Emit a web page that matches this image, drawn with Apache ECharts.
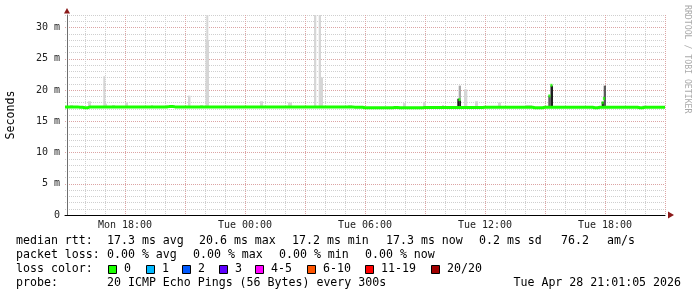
<!DOCTYPE html>
<html><head><meta charset="utf-8">
<script src="https://cdn.jsdelivr.net/npm/echarts@6/dist/echarts.min.js"></script>
<style>html,body{margin:0;padding:0;background:#fff}#c{width:697px;height:297px}</style>
</head><body><div id="c"></div>
<script>
// ---- data (x in hours since Mon 00:00, y in milliseconds) ----
const xTickHours  = [18, 24, 30, 36, 42];
const xTickLabels = ['Mon 18:00', 'Tue 00:00', 'Tue 06:00', 'Tue 12:00', 'Tue 18:00'];
const yTickValues = [0, 5, 10, 15, 20, 25, 30];
const yTickLabels = ['0', '5 m', '10 m', '15 m', '20 m', '25 m', '30 m'];

// median RTT, one value every 15 minutes from Mon 15:00 to Tue 21:00
const medianStartHour = 15;
const medianStepHours = 0.25;
const medianValues = [
  17.3, 17.3, 17.3, 17.25, 17.15, 17.3, 17.3, 17.3, 17.3, 17.3, 17.3, 17.3,
  17.3, 17.3, 17.3, 17.3, 17.3, 17.3, 17.3, 17.3, 17.3, 17.35, 17.3, 17.3,
  17.3, 17.3, 17.3, 17.3, 17.3, 17.3, 17.3, 17.3, 17.3, 17.3, 17.3, 17.3,
  17.3, 17.3, 17.3, 17.3, 17.3, 17.3, 17.3, 17.3, 17.3, 17.3, 17.3, 17.3,
  17.3, 17.3, 17.3, 17.3, 17.3, 17.3, 17.3, 17.3, 17.3, 17.3, 17.25, 17.25,
  17.15, 17.15, 17.15, 17.15, 17.15, 17.15, 17.2, 17.15, 17.15, 17.15, 17.15, 17.15,
  17.2, 17.2, 17.2, 17.2, 17.2, 17.2, 17.2, 17.2, 17.2, 17.2, 17.2, 17.2,
  17.25, 17.25, 17.25, 17.25, 17.25, 17.25, 17.25, 17.25, 17.25, 17.25, 17.15, 17.15,
  17.25, 17.25, 17.25, 17.25, 17.25, 17.25, 17.25, 17.25, 17.25, 17.25, 17.15, 17.25,
  17.25, 17.25, 17.25, 17.25, 17.25, 17.25, 17.25, 17.15, 17.25, 17.25, 17.25, 17.25,
  17.25
];

// smoke (ping spread) blocks: start hour, end hour, low ms, high ms, density level (1 light .. 4 dark)
const smokeStart = [15.25, 16.15, 16.915, 17.0, 17.35, 18.0, 19.3, 20.0, 20.35, 21.15, 21.75, 22.025, 22.065, 24.75, 26.15,
                    27.45, 27.685, 27.8, 29.15, 31.9, 32.9, 33.85, 34.685, 34.95, 35.5, 36.65, 38.0, 43.85,
                    34.615, 34.71, 39.165, 39.275, 41.835, 41.935];
const smokeEnd   = [15.4, 16.3, 17.015, 17.1, 17.5, 18.15, 19.4, 20.15, 20.5, 21.275, 21.9, 22.2, 22.165, 24.9, 26.35,
                    27.565, 27.8, 27.9, 29.35, 32.05, 33.05, 33.95, 34.8, 35.115, 35.65, 36.8, 38.35, 44.1,
                    34.7, 34.8, 39.275, 39.4, 41.95, 42.05];
const smokeLow   = [17.3, 17.3, 17.3, 17.3, 17.3, 17.3, 17.3, 17.3, 17.3, 17.3, 17.3, 17.3, 28.0, 17.3, 17.3,
                    17.3, 17.3, 17.3, 17.3, 17.2, 17.2, 17.2, 17.3, 17.2, 17.2, 17.2, 17.2, 17.2,
                    17.3, 17.3, 17.3, 17.3, 17.3, 17.3];
const smokeHigh  = [17.6, 18.2, 22.2, 17.8, 17.6, 18.0, 17.6, 17.6, 17.6, 19.1, 17.6, 28.0, 32.0, 18.2, 18.0,
                    32.0, 32.0, 22.0, 17.6, 17.9, 18.1, 17.6, 20.7, 20.1, 18.2, 18.0, 17.6, 17.5,
                    18.6, 18.3, 19.1, 20.7, 18.1, 20.7];
const smokeLevel = [1, 1, 1, 1, 1, 1, 1, 1, 1, 1, 1, 1, 1, 1, 1,
                    1, 1, 1, 1, 1, 1, 1, 2, 1, 1, 1, 1, 1,
                    4, 4, 3, 4, 4, 3];

// median jumps inside the spikes
const jumpHours  = [34.72, 39.22, 39.32, 41.88, 41.95];
const jumpValues = [18.45, 19.05, 20.75, 17.95, 18.65];

// legend
const lossLabels = ['0', '1', '2', '3', '4-5', '6-10', '11-19', '20/20'];
const lossColors = ['#1aff00', '#00b8ff', '#0059ff', '#5e00ff', '#ff00ff', '#ff5500', '#ff0000', '#a10000'];
const shadeColors = ['#d6d6d6', '#a9a9a9', '#5a5a5a', '#1e1e1e'];

// ---- chart ----
const medianData = medianValues.map((v, i) => [medianStartHour + i * medianStepHours, v]);
const smokeData = smokeStart.map((s, i) => [s, smokeEnd[i], smokeLow[i], smokeHigh[i], smokeLevel[i]]);
const jumpData = jumpHours.map((h, i) => [h, jumpValues[i]]);

const MONO = 'DejaVu Sans Mono';
const LF = 11.6;
const gridLeft = 65, gridTop = 15, gridW = 600, gridH = 200;

function txt(x, y, s, opts) {
  return Object.assign({ type: 'text', x: x, y: y, silent: true,
    style: Object.assign({ text: s, font: LF + 'px "' + MONO + '"', fill: '#000', textVerticalAlign: 'middle' }, opts || {}) });
}

const graphics = [];
// axis arrows
graphics.push({ type: 'polygon', silent: true, shape: { points: [[64, 13.5], [70, 13.5], [67, 8]] }, style: { fill: '#8b1a1a' } });
graphics.push({ type: 'polygon', silent: true, shape: { points: [[668, 211.5], [668, 218.5], [674, 215]] }, style: { fill: '#8b1a1a' } });
// watermark
graphics.push({ type: 'text', x: 683, y: 5, rotation: -Math.PI / 2, silent: true,
  style: { text: 'RRDTOOL / TOBI OETIKER', font: '8.2px "' + MONO + '"', fill: '#aaaaaa', textVerticalAlign: 'bottom' } });
// legend rows
graphics.push(txt(16, 241, 'median rtt:'));
graphics.push(txt(107, 241, '17.3 ms avg'));
graphics.push(txt(199, 241, '20.6 ms max'));
graphics.push(txt(292, 241, '17.2 ms min'));
graphics.push(txt(386, 241, '17.3 ms now'));
graphics.push(txt(479, 241, '0.2 ms sd'));
graphics.push(txt(561, 241, '76.2'));
graphics.push(txt(607, 241, 'am/s'));
graphics.push(txt(16, 255, 'packet loss:'));
graphics.push(txt(107, 255, '0.00 % avg'));
graphics.push(txt(193, 255, '0.00 % max'));
graphics.push(txt(279, 255, '0.00 % min'));
graphics.push(txt(365, 255, '0.00 % now'));
graphics.push(txt(16, 269, 'loss color:'));
const boxX = [108, 146, 182, 219, 255, 307, 365, 431];
lossLabels.forEach((lab, i) => {
  graphics.push({ type: 'rect', silent: true, shape: { x: boxX[i] + 0.5, y: 265.5, width: 8, height: 8 },
    style: { fill: lossColors[i], stroke: '#000', lineWidth: 1 } });
  graphics.push(txt(boxX[i] + 16, 269, lab));
});
graphics.push(txt(16, 283, 'probe:'));
graphics.push(txt(107, 283, '20 ICMP Echo Pings (56 Bytes) every 300s'));
graphics.push(txt(681, 283, 'Tue Apr 28 21:01:05 2026', { textAlign: 'right' }));

const minorGrid = { show: true, lineStyle: { color: '#cfcfcf', type: [1, 1], width: 1 } };
const majorGrid = { show: true, lineStyle: { color: '#dca4a4', type: [1, 1], width: 1 } };

const option = {
  animation: false,
  backgroundColor: '#ffffff',
  grid: { left: gridLeft, top: gridTop, width: gridW, height: gridH, containLabel: false, outerBoundsMode: 'none' },
  xAxis: [
    { type: 'value', min: 15, max: 45, interval: 1, position: 'bottom',
      axisLine: { show: true, onZero: false, lineStyle: { color: '#000', width: 1 } },
      axisTick: { show: false },
      splitLine: Object.assign({ showMinLine: false }, minorGrid),
      axisLabel: { show: true, margin: 5, fontFamily: MONO, fontSize: 10, color: '#222',
        formatter: v => { const k = xTickHours.indexOf(v); return k >= 0 ? xTickLabels[k] : ''; } } },
    { type: 'value', min: 15, max: 45, interval: 3, position: 'bottom',
      axisLine: { show: false }, axisTick: { show: false }, axisLabel: { show: false },
      splitLine: Object.assign({ showMinLine: false }, majorGrid) }
  ],
  yAxis: [
    { type: 'value', min: 0, max: 32, interval: 1, position: 'left',
      axisLine: { show: false }, axisTick: { show: false }, axisLabel: { show: false },
      splitLine: Object.assign({ showMinLine: false }, minorGrid) },
    { type: 'value', min: 0, max: 32, interval: 5, position: 'left', offset: -2,
      axisLine: { show: true, onZero: false, lineStyle: { color: '#6e6e6e', width: 1 } },
      axisTick: { show: false },
      splitLine: Object.assign({ showMinLine: false, showMaxLine: false }, majorGrid),
      axisLabel: { margin: 7, fontFamily: MONO, fontSize: 10, color: '#222', showMaxLabel: false,
        formatter: v => { const k = yTickValues.indexOf(v); return k >= 0 ? yTickLabels[k] : ''; } },
      name: 'Seconds', nameLocation: 'middle', nameRotate: 90, nameGap: 50,
      nameTextStyle: { fontFamily: MONO, fontSize: 11.6, color: '#000' } }
  ],
  series: [
    { type: 'custom', xAxisIndex: 0, yAxisIndex: 0, clip: true, z: 2,
      data: smokeData, encode: { x: [0, 1], y: [2, 3] },
      renderItem: function (params, api) {
        const p0 = api.coord([api.value(0), api.value(3)]);
        const p1 = api.coord([api.value(1), api.value(2)]);
        return { type: 'rect', shape: { x: p0[0], y: p0[1], width: p1[0] - p0[0], height: p1[1] - p0[1] },
          style: { fill: shadeColors[api.value(4) - 1] } };
      } },
    { type: 'line', xAxisIndex: 0, yAxisIndex: 0, data: medianData, step: 'middle', showSymbol: false, z: 3,
      lineStyle: { color: lossColors[0], width: 3 } },
    { type: 'scatter', xAxisIndex: 0, yAxisIndex: 0, data: jumpData, symbol: 'rect', symbolSize: [2.2, 3], z: 4,
      itemStyle: { color: lossColors[0] } }
  ],
  graphic: graphics
};

const chart = echarts.init(document.getElementById('c'), null, { renderer: 'canvas' });
chart.setOption(option);
</script>
</body></html>
